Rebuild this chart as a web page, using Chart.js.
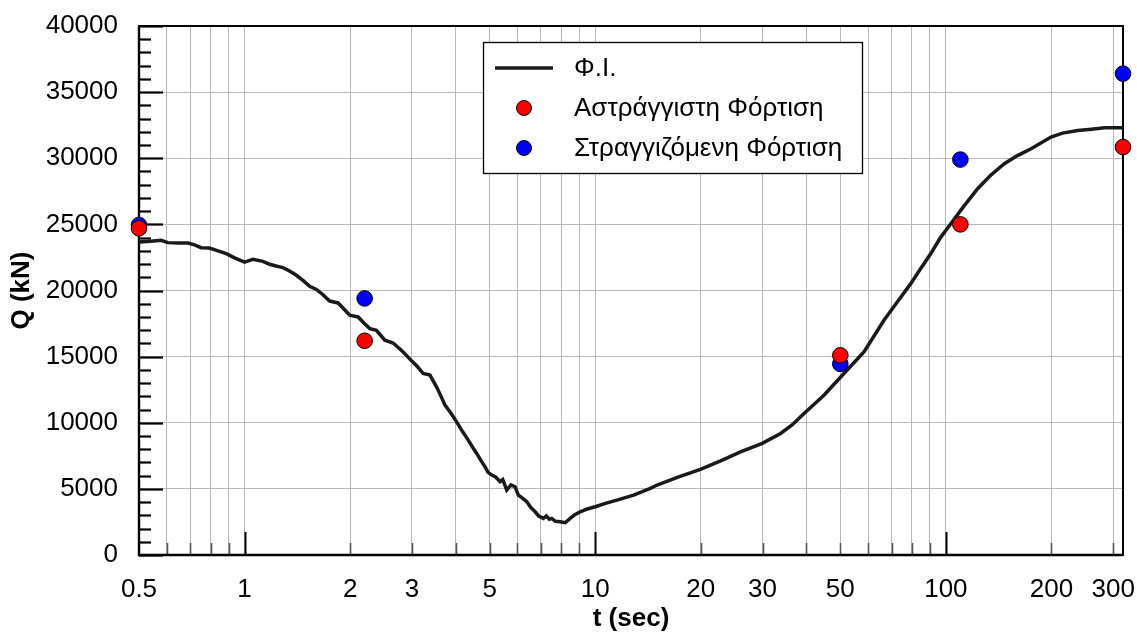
<!DOCTYPE html>
<html>
<head>
<meta charset="utf-8">
<script src="https://cdn.jsdelivr.net/npm/chart.js@4.4.0/dist/chart.umd.min.js"></script>
<style>
  html, body { margin: 0; padding: 0; background: #ffffff; }
  #wrap { width: 1137px; height: 633px; }
</style>
</head>
<body>
<div id="wrap"><canvas id="chart" width="1137" height="633"></canvas></div>
<script>
// Φ.Ι. curve: time (sec) and shear force Q (kN)
const fiTime = [0.5, 0.54, 0.578, 0.604, 0.65, 0.689, 0.72, 0.752, 0.794, 0.84, 0.887, 0.94, 1.0, 1.056, 1.128, 1.179, 1.23, 1.286, 1.34, 1.405, 1.47, 1.533, 1.603, 1.67, 1.749, 1.848, 1.92, 1.995, 2.108, 2.19, 2.276, 2.378, 2.512, 2.653, 2.834, 2.995, 3.11, 3.232, 3.378, 3.53, 3.648, 3.728, 3.87, 4.026, 4.18, 4.345, 4.47, 4.592, 4.72, 4.851, 4.95, 5.07, 5.2, 5.354, 5.45, 5.594, 5.75, 5.907, 6.038, 6.2, 6.38, 6.55, 6.74, 6.9, 7.115, 7.25, 7.4, 7.52, 7.7, 7.943, 8.21, 8.483, 8.75, 9.06, 9.5, 10, 10.7, 11.53, 12.87, 14.36, 15.01, 17.3, 19.95, 22.7, 25.96, 29.95, 33.78, 36.5, 39.4, 44.9, 51.2, 58.4, 66.6, 72.5, 79.4, 84.5, 90.6, 96.5, 103.3, 112, 123.2, 134, 146.8, 160, 175, 199.5, 215, 237.8, 260, 283.4, 320];
const fiLoad = [23660, 23720, 23790, 23620, 23600, 23590, 23450, 23240, 23210, 23000, 22790, 22450, 22150, 22360, 22200, 21980, 21850, 21730, 21500, 21150, 20750, 20320, 20080, 19700, 19200, 19060, 18600, 18130, 18000, 17550, 17120, 16990, 16240, 16030, 15350, 14680, 14250, 13720, 13600, 12700, 11900, 11330, 10750, 10070, 9350, 8690, 8150, 7680, 7150, 6670, 6250, 6040, 5900, 5540, 5700, 4910, 5300, 5160, 4530, 4300, 4030, 3600, 3270, 2950, 2770, 2950, 2700, 2770, 2550, 2520, 2440, 2770, 3050, 3270, 3480, 3650, 3900, 4150, 4530, 5040, 5290, 5900, 6480, 7100, 7800, 8440, 9190, 9850, 10700, 12080, 13720, 15350, 17750, 19100, 20520, 21600, 22790, 24000, 25050, 26300, 27700, 28700, 29590, 30200, 30720, 31600, 31900, 32100, 32200, 32300, 32300];

// Undrained loading points
const undrainedTime = [0.5, 2.2, 50, 110, 320];
const undrainedLoad = [24700, 16200, 15100, 25000, 30850];

// Drained loading points
const drainedTime = [0.5, 2.2, 50, 110, 320];
const drainedLoad = [24950, 19400, 14450, 29900, 36400];

// Axis ticks
const xGridValues = [0.5, 0.6, 0.7, 0.8, 0.9, 1, 2, 3, 4, 5, 6, 7, 8, 9, 10, 20, 30, 40, 50, 60, 70, 80, 90, 100, 200, 300];
const xLabelValues = [0.5, 1, 2, 3, 5, 10, 20, 30, 50, 100, 200, 300];
const xMajorValues = [1, 10, 100];
const yLabelValues = [0, 5000, 10000, 15000, 20000, 25000, 30000, 35000, 40000];
const yMinorValues = [1000, 2000, 3000, 4000, 6000, 7000, 8000, 9000, 11000, 12000, 13000, 14000, 16000, 17000, 18000, 19000, 21000, 22000, 23000, 24000, 26000, 27000, 28000, 29000, 31000, 32000, 33000, 34000, 36000, 37000, 38000, 39000];

const seriesNames = ['Φ.Ι.', 'Αστράγγιστη Φόρτιση', 'Στραγγιζόμενη Φόρτιση'];
const xTitle = 't (sec)';
const yTitle = 'Q (kN)';

const FONT = 'Liberation Sans, Arial, sans-serif';
const toPoints = (xs, ys) => xs.map((x, i) => ({ x: x, y: ys[i] }));

// Frame and inward tick marks drawn under the data
const framePlugin = {
  id: 'frame',
  beforeDatasetsDraw(chart) {
    const { ctx, chartArea: a, scales: { x, y } } = chart;
    ctx.save();
    ctx.lineCap = 'butt';
    ctx.strokeStyle = '#000';
    ctx.lineWidth = 2.2;
    yLabelValues.forEach(v => {
      const py = Math.round(y.getPixelForValue(v)) + 0.5;
      ctx.beginPath(); ctx.moveTo(a.left, py); ctx.lineTo(a.left + 24, py); ctx.stroke();
    });
    yMinorValues.forEach(v => {
      const py = Math.round(y.getPixelForValue(v)) + 0.5;
      ctx.beginPath(); ctx.moveTo(a.left, py); ctx.lineTo(a.left + 12, py); ctx.stroke();
    });
    xGridValues.forEach(v => {
      if (v === 0.5) return;
      const px = Math.round(x.getPixelForValue(v)) + 0.5;
      const major = xMajorValues.includes(v);
      ctx.strokeStyle = major ? '#000' : '#555';
      ctx.lineWidth = major ? 2 : 1.6;
      ctx.beginPath(); ctx.moveTo(px, a.bottom); ctx.lineTo(px, a.bottom - (major ? 23 : 12)); ctx.stroke();
    });
    ctx.strokeStyle = '#000';
    ctx.lineWidth = 2;
    ctx.strokeRect(a.left, a.top, a.right - a.left, a.bottom - a.top);
    ctx.lineWidth = 2.4;
    ctx.beginPath(); ctx.moveTo(a.left, a.top); ctx.lineTo(a.left, a.bottom); ctx.lineTo(a.right, a.bottom); ctx.stroke();
    ctx.restore();
  }
};

// Boxed legend inside the plot
const legendBoxPlugin = {
  id: 'legendBox',
  afterDraw(chart) {
    const { ctx } = chart;
    const ds = chart.data.datasets;
    const bx = 483, by = 42, bw = 379, bh = 131;
    ctx.save();
    ctx.fillStyle = '#fff';
    ctx.fillRect(bx, by, bw, bh);
    ctx.strokeStyle = '#000';
    ctx.lineWidth = 1.3;
    ctx.strokeRect(bx + 0.5, by + 0.5, bw, bh);
    const rows = [68, 108, 148];
    ctx.font = '26px ' + FONT;
    ctx.textBaseline = 'middle';
    ctx.textAlign = 'left';
    ds.forEach((d, i) => {
      const ry = rows[i];
      if (d.showLine) {
        ctx.strokeStyle = d.borderColor;
        ctx.lineWidth = 3.5;
        ctx.beginPath(); ctx.moveTo(495, ry); ctx.lineTo(553, ry); ctx.stroke();
      } else {
        ctx.fillStyle = d.backgroundColor;
        ctx.strokeStyle = d.borderColor;
        ctx.lineWidth = 1;
        ctx.beginPath(); ctx.arc(524, ry, 7.5, 0, Math.PI * 2); ctx.fill(); ctx.stroke();
      }
      ctx.fillStyle = '#000';
      ctx.fillText(d.label, 574, ry + 1);
    });
    ctx.restore();
  }
};

new Chart(document.getElementById('chart'), {
  type: 'scatter',
  data: {
    datasets: [
      {
        label: seriesNames[0],
        data: toPoints(fiTime, fiLoad),
        showLine: true,
        borderColor: '#1a1a1a',
        borderWidth: 3.5,
        pointRadius: 0,
        tension: 0,
        order: 3
      },
      {
        label: seriesNames[1],
        data: toPoints(undrainedTime, undrainedLoad),
        backgroundColor: '#ff0000',
        borderColor: '#000',
        borderWidth: 1,
        pointRadius: 7.8,
        clip: false,
        order: 1
      },
      {
        label: seriesNames[2],
        data: toPoints(drainedTime, drainedLoad),
        backgroundColor: '#0000ff',
        borderColor: '#000',
        borderWidth: 1,
        pointRadius: 7.8,
        clip: false,
        order: 2
      }
    ]
  },
  options: {
    responsive: false,
    devicePixelRatio: 1,
    animation: false,
    layout: { padding: { left: 0, right: 14, top: 26, bottom: 0 } },
    plugins: { legend: { display: false }, tooltip: { enabled: false } },
    scales: {
      x: {
        type: 'logarithmic',
        min: 0.5,
        max: 320,
        afterBuildTicks: s => { s.ticks = xGridValues.map(v => ({ value: v })); },
        afterFit: s => { s.height = 78; s.paddingLeft = 0; s.paddingRight = 0; },
        border: { display: false },
        grid: { color: '#b8b8b8', lineWidth: 1, drawTicks: false },
        ticks: {
          autoSkip: false,
          maxRotation: 0,
          padding: 19,
          color: '#000',
          font: { family: FONT, size: 26 },
          callback: v => xLabelValues.includes(v) ? String(v) : ''
        },
        title: {
          display: true,
          text: xTitle,
          color: '#000',
          font: { family: FONT, size: 26, weight: 'bold', lineHeight: 1 },
          padding: { top: 0, bottom: 1 }
        }
      },
      y: {
        type: 'linear',
        min: 0,
        max: 40000,
        afterBuildTicks: s => { s.ticks = yLabelValues.map(v => ({ value: v })); },
        afterFit: s => { s.width = 139; s.paddingTop = 0; s.paddingBottom = 0; },
        border: { display: false },
        grid: { color: '#b8b8b8', lineWidth: 1, drawTicks: false },
        ticks: {
          padding: 21,
          color: '#000',
          font: { family: FONT, size: 26 },
          callback: v => String(v)
        },
        title: {
          display: true,
          text: yTitle,
          color: '#000',
          font: { family: FONT, size: 26, weight: 'bold', lineHeight: 1 },
          padding: { top: 9, bottom: 0 }
        }
      }
    }
  },
  plugins: [framePlugin, legendBoxPlugin]
});
</script>
</body>
</html>
